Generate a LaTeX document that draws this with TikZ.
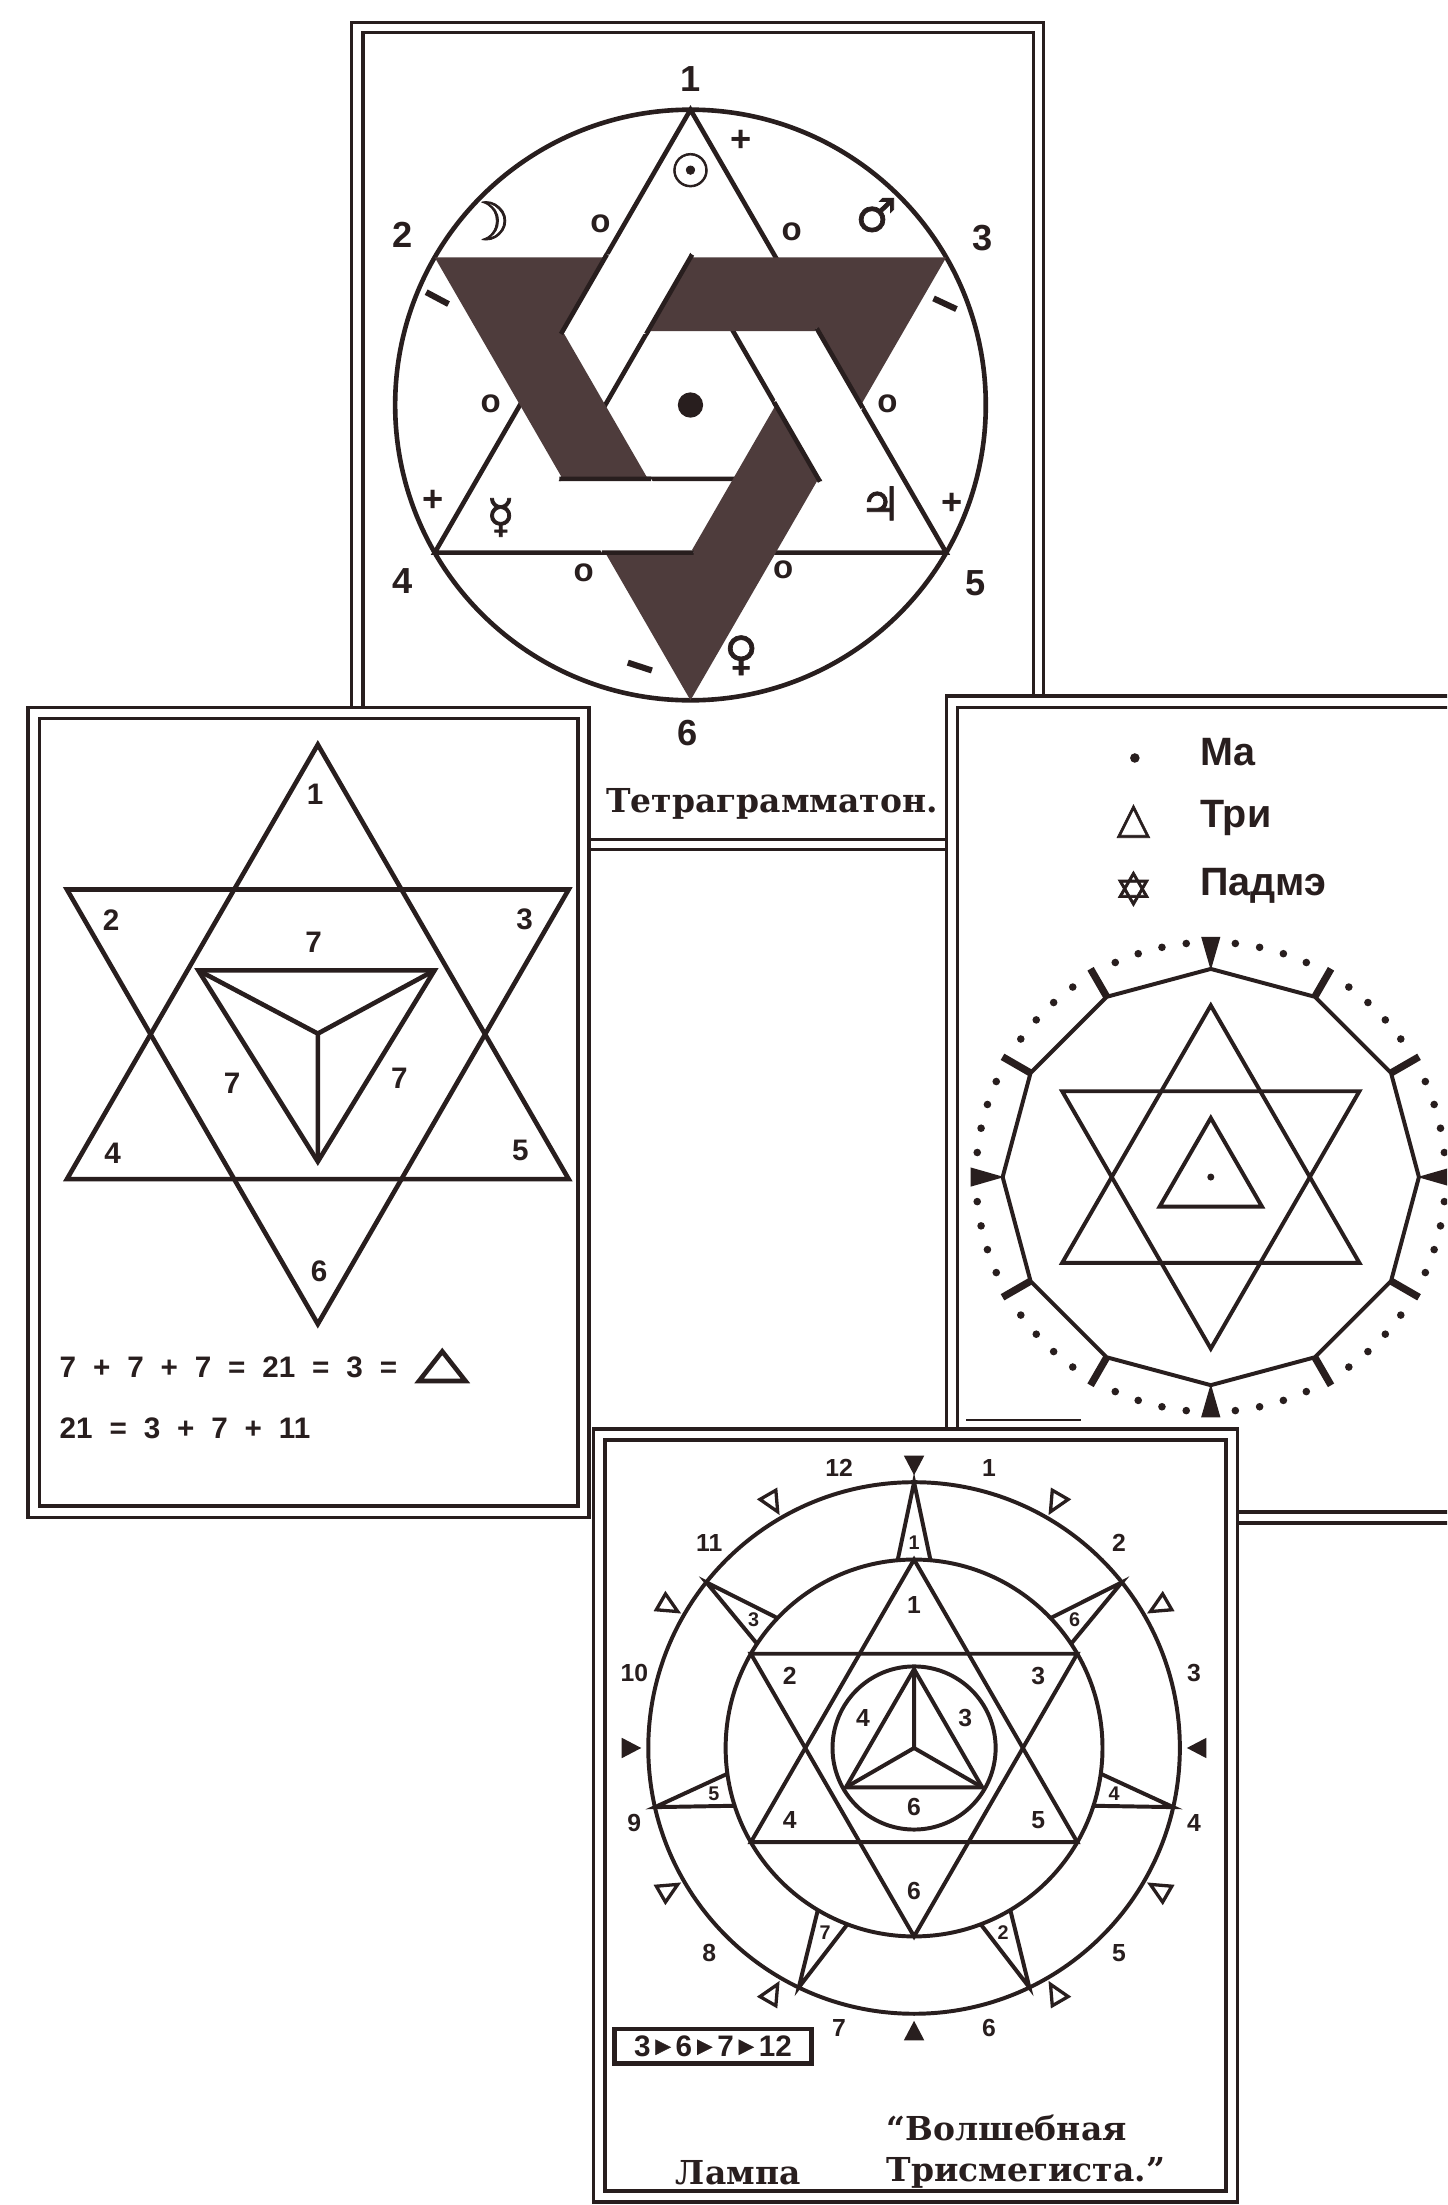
\documentclass[tikz,border=0pt]{standalone}
\usepackage{fontspec}
\setmainfont{Liberation Sans}
\newfontfamily\symfont{DejaVu Sans}[FakeBold=1.6]
\newfontfamily\capfont{DejaVu Serif}
\usetikzlibrary{calc}
\definecolor{ink}{RGB}{40,30,30}
\definecolor{bandfill}{RGB}{78,60,60}
\newcommand\gap{\hspace{1.8mm}}
\newcommand\tri{\raisebox{0.25ex}{\symfont\fontsize{6}{6}\selectfont ▶}}

\begin{document}
\begin{tikzpicture}[x=0.15mm, y=-0.15mm,
    cardframe/.style={draw=ink, line width=1.1pt},
    inkline/.style={draw=ink, line width=1.4pt, line join=miter},
    fineline/.style={draw=ink, line width=1.2pt, line join=miter},
    numbig/.style={text=ink, font=\bfseries\fontsize{11}{11}\selectfont, inner sep=0pt},
    nummid/.style={text=ink, font=\bfseries\fontsize{9}{9}\selectfont, inner sep=0pt},
    numsmall/.style={text=ink, font=\bfseries\fontsize{7.5}{7.5}\selectfont, inner sep=0pt},
    numtiny/.style={text=ink, font=\bfseries\fontsize{6}{6}\selectfont, inner sep=0pt},
    glyph/.style={text=ink, font=\symfont\fontsize{14}{14}\selectfont, inner sep=0pt},
    ring/.style={text=ink, font=\bfseries\fontsize{10}{10}\selectfont, inner sep=0pt},
    minusbar/.style={fill=ink, minimum width=2.7mm, minimum height=0.65mm, inner sep=0pt},
    title/.style={text=ink, font=\capfont\bfseries\fontsize{10}{12}\selectfont, inner sep=0pt},
    legend/.style={text=ink, font=\bfseries\fontsize{12}{12}\selectfont, inner sep=0pt, anchor=west}]

  \useasboundingbox (0,0) rectangle (1029,1568);
  \clip (0,0) rectangle (1029,1568);

  % Tetragrammaton card
  \fill[white] (250,16) rectangle (742,604);
  \draw[cardframe] (250,16) rectangle (742,604);
  \draw[cardframe] (258,23) rectangle (735,597);
  \begin{scope}[shift={(491,288)}]
    \draw[inkline] (0,0) circle (210);
    \draw[inkline] (-90:210) -- (150:210) -- (30:210) -- cycle;
    \draw[inkline] (-90:105) -- (150:105) -- (30:105) -- cycle;
    \fill[bandfill, even odd rule] (-150:210) -- (-30:210) -- (90:210) -- cycle
      (-150:105) -- (-30:105) -- (90:105) -- cycle;
    % light band passes over at three crossings
    \foreach \a in {0,120,240}{
      \begin{scope}[rotate=\a]
        \fill[white] (-59.47,-107) -- (1.15,-107) -- (-31.46,-50.5) -- (-92.08,-50.5) -- cycle;
        \draw[inkline] (-59.47,-107) -- (-92.08,-50.5) (1.15,-107) -- (-31.46,-50.5);
      \end{scope}}
    \fill[ink] (0,0) circle (9);
  \end{scope}
  \node[numbig] (t1) at (491,56) {1};
  \node[numbig] (t2) at (286,167) {2};
  \node[numbig] (t3) at (699,169) {3};
  \node[numbig] (t4) at (286,413) {4};
  \node[numbig] (t5) at (694,415) {5};
  \node[numbig] (t6) at (489,521) {6};
  \node[glyph] (sun) at (491,121) {☉};
  \node[numbig] (plusa) at (527,100) {+};
  \node[glyph, font=\symfont\fontsize{16}{16}\selectfont] (moon) at (346,157) {☽};
  \node[ring] (ringa) at (427,159) {o};
  \node[ring] (ringb) at (563,165) {o};
  \node[glyph] (mars) at (623,153) {♂};
  \node[minusbar, rotate=-28] (minusa) at (311,212) {};
  \node[minusbar, rotate=-25] (minusb) at (672,216) {};
  \node[ring] (ringc) at (349,287) {o};
  \node[ring] (ringd) at (631,287) {o};
  \node[numbig] (plusb) at (308,356) {+};
  \node[glyph] (mercury) at (356,368) {☿};
  \node[glyph] (jupiter) at (626,358) {♃};
  \node[numbig] (plusc) at (677,358) {+};
  \node[ring] (ringe) at (415,407) {o};
  \node[ring] (ringf) at (557,405) {o};
  \node[minusbar, rotate=-18] (minusc) at (455,474) {};
  \node[glyph] (venus) at (527,466) {♀};
  \node[title] (tetra) at (549,572) {Тетраграмматон.};

  % sevens card
  \fill[white] (20,503) rectangle (419,1079);
  \draw[cardframe] (20,503) rectangle (419,1079);
  \draw[cardframe] (28,511) rectangle (411,1071);
  \begin{scope}[shift={(226,735.5)}]
    \draw[inkline] (-90:206) -- (150:206) -- (30:206) -- cycle;
    \draw[inkline] (90:206) -- (-150:206) -- (-30:206) -- cycle;
  \end{scope}
  \draw[inkline] (141,690) -- (309,690) -- (226,826) -- cycle;
  \draw[inkline] (141,690) -- (226,735) -- (309,690) (226,735) -- (226,826);
  \node[nummid] (s1) at (224,565) {1};
  \node[nummid] (s2) at (79,654) {2};
  \node[nummid] (s3) at (373,654) {3};
  \node[nummid] (s4) at (80,820) {4};
  \node[nummid] (s5) at (370,818) {5};
  \node[nummid] (s6) at (227,904) {6};
  \node[nummid] (sevena) at (223,670) {7};
  \node[nummid] (sevenb) at (165,770) {7};
  \node[nummid] (sevenc) at (284,767) {7};
  \node[nummid, anchor=west] (suma) at (42,972) {7\gap+\gap7\gap+\gap7\gap=\gap21\gap=\gap3\gap=};
  \draw[inkline] (298,982) -- (331,982) -- (314.5,961) -- cycle;
  \node[nummid, anchor=west] (sumb) at (42,1016) {21\gap=\gap3\gap+\gap7\gap+\gap11};

  % Ma, Tri, Padme card
  \fill[white] (673,495) rectangle (1045,1083);
  \draw[cardframe] (673,495) rectangle (1045,1083);
  \draw[cardframe] (681,503) rectangle (1037,1075);
  \fill[ink] (807,539) circle (3.4);
  \node[glyph, font=\symfont\fontsize{13}{13}\selectfont] (delta) at (806,584) {△};
  \node[glyph, font=\symfont\fontsize{14}{14}\selectfont] (hexa) at (806,632) {✡};
  \node[legend] (ma) at (853,535) {Ма};
  \node[legend] (tri) at (853,582) {Три};
  \node[legend] (padme) at (853,630) {Падмэ};
  \begin{scope}[shift={(861,837)}]
    \foreach \k in {0,...,11}{
      \foreach \j in {1,...,4}{
        \fill[ink] (\k*30+\j*6:167) circle (2.7);}}
    \draw[fineline] (0:148) \foreach \a in {30,60,...,330}{ -- (\a:148)} -- cycle;
    \foreach \a in {-60,-30,30,60,120,150,210,240}
      \draw[ink, line width=2.2pt] (\a:148) -- (\a:171);
    \foreach \a in {-90,0,90,180}
      \fill[ink] (\a:147) -- (\a+2.3:171) -- (\a-2.3:171) -- cycle;
    \draw[fineline] (-90:122) -- (150:122) -- (30:122) -- cycle;
    \draw[fineline] (90:122) -- (-150:122) -- (-30:122) -- cycle;
    \draw[fineline] (-90:42) -- (150:42) -- (30:42) -- cycle;
    \fill[ink] (0,0) circle (2.5);
  \end{scope}
  \draw[ink, line width=0.6pt] (687,1010) -- (769,1010);

  % magic lamp card
  \fill[white] (422,1016) rectangle (880,1566);
  \draw[cardframe] (422,1016) rectangle (880,1566);
  \draw[cardframe] (430,1024) rectangle (872,1558);
  \begin{scope}[shift={(650,1243)}]
    \draw[fineline] (0,0) circle (189);
    \draw[fineline] (0,0) circle (134);
    \draw[fineline] (0,0) circle (58);
    \draw[fineline] (-90:134) -- (150:134) -- (30:134) -- cycle;
    \draw[fineline] (90:134) -- (-150:134) -- (-30:134) -- cycle;
    \draw[fineline] (-90:56) -- (150:56) -- (30:56) -- cycle;
    \draw[fineline] (0,0) -- (-90:56) (0,0) -- (150:56) (0,0) -- (30:56);
    \foreach \a/\n in {-90/1,-38.57/6,12.86/4,64.29/2,115.71/7,167.14/5,218.57/3}{
      \draw[fineline] (\a-5:134) -- (\a:189) -- (\a+5:134);
      \node[numtiny] (spike\n) at (\a:146) {\n};}
    \foreach \a in {-60,-30,30,60,120,150,210,240}
      \draw[ink, line width=1pt, line join=miter] (\a:194) -- (\a+1.8:208) -- (\a-1.8:208) -- cycle;
    \foreach \a in {-90,0,90,180}
      \fill[ink] (\a:194) -- (\a+2:208) -- (\a-2:208) -- cycle;
    \foreach \n in {1,...,12}
      \node[numsmall] (hour\n) at (-105+30*\n:206) {\n};
    \foreach \a/\n in {-90/1,-150/2,-30/3,150/4,30/5,90/6}
      \node[numsmall] (point\n) at (\a:102) {\n};
    \foreach \a/\n in {-150/4,-30/3,90/6}
      \node[numsmall] (core\n) at (\a:42) {\n};
  \end{scope}
  \node[nummid, draw=ink, line width=1.3pt, minimum width=21mm, minimum height=3.7mm, inner sep=1pt]
    (order) at (507,1455) {3\,\tri\,6\,\tri\,7\,\tri\,12};
  \node[title, anchor=west] (volsh) at (630,1513) {“Волшебная};
  \node[title] (lampa) at (525,1545) {Лампа};
  \node[title, anchor=west] (trism) at (630,1545) {Трисмегиста.”};
\end{tikzpicture}
\end{document}
